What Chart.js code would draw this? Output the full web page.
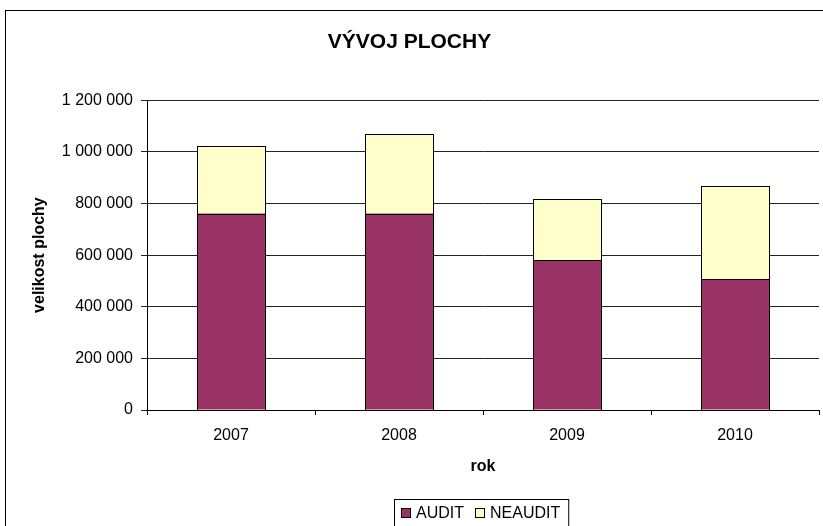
<!DOCTYPE html>
<html>
<head>
<meta charset="utf-8">
<script src="https://cdn.jsdelivr.net/npm/chart.js@4/dist/chart.umd.min.js"></script>
<style>
  html, body { margin: 0; padding: 0; background: #fff; overflow: hidden; }
  #wrap { position: absolute; left: 0; top: 0; width: 823px; height: 526px; }
</style>
</head>
<body>
<div id="wrap"><canvas id="chartCanvas"></canvas></div>
<script>
const years = ["2007", "2008", "2009", "2010"];
const audit = [761000, 761000, 580000, 506000];
const neaudit = [262000, 308000, 238000, 361000];
const seriesNames = ["AUDIT", "NEAUDIT"];
const seriesColors = ["#993366", "#FFFFCC"];

const FONT = "'Liberation Sans', Arial, sans-serif";

function spaced(v) {
  return String(v).replace(/\B(?=(\d{3})+(?!\d))/g, " ");
}

// frame round the whole chart
const framePlugin = {
  id: "frame",
  beforeDraw(chart) {
    const ctx = chart.ctx;
    ctx.save();
    ctx.fillStyle = "#fff";
    ctx.fillRect(0, 0, chart.width, chart.height);
    ctx.strokeStyle = "#000";
    ctx.lineWidth = 1;
    ctx.strokeRect(5.5, 10.5, 900, 900);
    ctx.restore();
  }
};

// crisp black outline on every bar segment
const barOutline = {
  id: "barOutline",
  afterDatasetsDraw(chart) {
    const ctx = chart.ctx;
    ctx.save();
    ctx.strokeStyle = "#000";
    ctx.lineWidth = 1;
    chart.data.datasets.forEach((ds, i) => {
      chart.getDatasetMeta(i).data.forEach(bar => {
        const l = Math.round(bar.x - bar.width / 2) + 0.5;
        const r = Math.round(bar.x + bar.width / 2) + 0.5;
        const t = Math.round(bar.y) + 0.5;
        const b = Math.round(bar.base) + 0.5;
        ctx.strokeRect(l, t, r - l, b - t);
      });
    });
    ctx.restore();
  }
};

// legend drawn by hand so it can sit off centre like the original
const boxLegend = {
  id: "boxLegend",
  afterDraw(chart) {
    const ctx = chart.ctx;
    ctx.save();
    ctx.font = "16px " + FONT;
    ctx.textBaseline = "middle";
    let x = 401;
    const cy = 513;
    const items = [];
    chart.data.datasets.forEach(ds => {
      const w = ctx.measureText(ds.label).width;
      items.push({ x: x, label: ds.label, color: ds.backgroundColor, w: w });
      x += 10 + 5 + w + 11;
    });
    const right = x - 11 + 8;
    ctx.strokeStyle = "#000";
    ctx.lineWidth = 1;
    ctx.strokeRect(394.5, 499.5, right - 394, 40);
    items.forEach(it => {
      ctx.fillStyle = it.color;
      ctx.fillRect(it.x, cy - 5, 10, 10);
      ctx.strokeRect(it.x + 0.5, cy - 4.5, 9, 9);
      ctx.fillStyle = "#000";
      ctx.fillText(it.label, it.x + 15, cy + 1);
    });
    ctx.restore();
  }
};

const ctx = document.getElementById("chartCanvas").getContext("2d");

new Chart(ctx, {
  type: "bar",
  data: {
    labels: years,
    datasets: [
      {
        label: seriesNames[0],
        data: audit,
        backgroundColor: seriesColors[0],
        borderWidth: 0
      },
      {
        label: seriesNames[1],
        data: neaudit,
        backgroundColor: seriesColors[1],
        borderWidth: 0
      }
    ]
  },
  options: {
    responsive: true,
    maintainAspectRatio: false,
    animation: false,
    layout: { padding: { left: 0, right: 4, top: 0, bottom: 0 } },
    datasets: {
      bar: { categoryPercentage: 1, barPercentage: 0.405 }
    },
    plugins: {
      legend: { display: false },
      tooltip: { enabled: false },
      title: {
        display: true,
        text: "VÝVOJ PLOCHY",
        color: "#000",
        font: { family: FONT, size: 21, weight: "bold" },
        padding: { top: 30, bottom: 45 }
      }
    },
    scales: {
      x: {
        stacked: true,
        afterFit(scale) { scale.height = 116; },
        grid: {
          drawOnChartArea: false,
          drawTicks: true,
          tickLength: 5,
          color: "#000",
          offset: true
        },
        border: { display: true, color: "#000" },
        ticks: {
          color: "#000",
          padding: 11,
          font: { family: FONT, size: 16 }
        },
        title: {
          display: true,
          text: "rok",
          color: "#000",
          font: { family: FONT, size: 16, weight: "bold" },
          padding: { top: 0, bottom: 50 }
        }
      },
      y: {
        stacked: true,
        min: 0,
        max: 1200000,
        afterFit(scale) { scale.width = 147; },
        grid: {
          color: "#222",
          lineWidth: 1,
          drawTicks: true,
          tickLength: 6
        },
        border: { display: true, color: "#000" },
        ticks: {
          stepSize: 200000,
          color: "#000",
          padding: 8,
          font: { family: FONT, size: 16 },
          callback: v => spaced(v)
        },
        title: {
          display: true,
          text: "velikost plochy",
          color: "#000",
          font: { family: FONT, size: 16, weight: "bold" },
          padding: { top: 30, bottom: 0 }
        }
      }
    }
  },
  plugins: [framePlugin, barOutline, boxLegend]
});
</script>
</body>
</html>
